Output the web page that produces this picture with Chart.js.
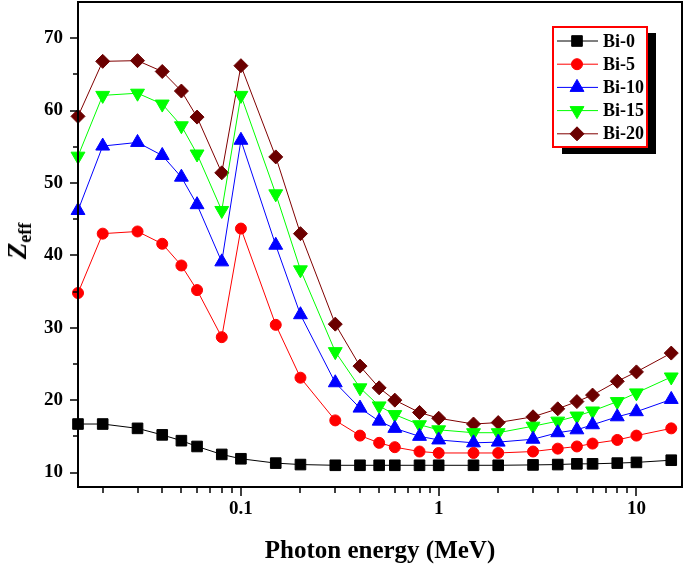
<!DOCTYPE html>
<html>
<head>
<meta charset="utf-8">
<script src="https://cdn.jsdelivr.net/npm/chart.js@4.4.1/dist/chart.umd.min.js"></script>
<style>
  body { margin: 0; background: #fff; }
  #wrap { position: relative; width: 685px; height: 573px; }
  #ytitle {
    position: absolute; left: 19px; top: 241px;
    transform: translate(-50%, -50%) rotate(-90deg);
    font-family: 'Liberation Serif', 'Times New Roman', serif;
    font-weight: bold; font-size: 27px; white-space: nowrap; color: #000;
  }
  #ytitle i { font-style: italic; }
  #ytitle sub { font-size: 18px; font-style: normal; vertical-align: -5px; }
</style>
</head>
<body>
<div id="wrap">
  <canvas id="chart" width="685" height="573"></canvas>
  <div id="ytitle"><i>Z</i><sub>eff</sub></div>
</div>
<script>
// Photon energy (MeV)
const energies = [0.015, 0.02, 0.03, 0.04, 0.05, 0.06, 0.08, 0.1, 0.15, 0.2, 0.3, 0.4, 0.5, 0.6, 0.8, 1, 1.5, 2, 3, 4, 5, 6, 8, 10, 15];

// Zeff per sample
const bi0  = [16.7, 16.7, 16.1, 15.2, 14.4, 13.6, 12.5, 11.9, 11.3, 11.1, 11.0, 11.0, 11.0, 11.0, 11.0, 11.0, 11.0, 11.0, 11.05, 11.1, 11.2, 11.2, 11.3, 11.4, 11.7];
const bi5  = [34.8, 43.0, 43.3, 41.6, 38.6, 35.2, 28.7, 43.7, 30.4, 23.1, 17.2, 15.1, 14.1, 13.5, 12.9, 12.7, 12.7, 12.7, 12.9, 13.3, 13.6, 14.0, 14.5, 15.1, 16.1];
const bi10 = [46.2, 55.1, 55.6, 53.8, 50.8, 47.0, 39.1, 55.9, 41.4, 31.8, 22.4, 18.9, 17.1, 16.1, 15.0, 14.5, 14.1, 14.2, 14.6, 15.5, 15.9, 16.6, 17.7, 18.4, 20.1];
const bi15 = [53.7, 62.1, 62.4, 60.9, 57.9, 54.0, 46.2, 62.1, 48.5, 38.0, 26.7, 21.7, 19.2, 18.0, 16.6, 15.9, 15.5, 15.5, 16.4, 17.1, 17.8, 18.5, 19.8, 21.0, 23.2];
const bi20 = [59.2, 66.8, 66.9, 65.4, 62.7, 59.1, 51.4, 66.2, 53.6, 43.0, 30.5, 24.7, 21.7, 20.0, 18.3, 17.5, 16.7, 16.9, 17.7, 18.8, 19.8, 20.7, 22.6, 23.9, 26.5];

const seriesLabels = ['Bi-0', 'Bi-5', 'Bi-10', 'Bi-15', 'Bi-20'];

// axis ticks
const xMajorTicks = [0.1, 1, 10];
const xMinorTicks = [0.02, 0.03, 0.04, 0.05, 0.06, 0.07, 0.08, 0.09, 0.2, 0.3, 0.4, 0.5, 0.6, 0.7, 0.8, 0.9, 2, 3, 4, 5, 6, 7, 8, 9];
const yMajorTicks = [10, 20, 30, 40, 50, 60, 70];
const yMinorTicks = [15, 25, 35, 45, 55, 65];

const serif = "'Liberation Serif', 'Times New Roman', serif";

function toPoints(values) {
    return energies.map((e, i) => ({ x: e, y: values[i] }));
}

function makeSet(label, values, color, markerColor, style, radius, rotation) {
    return {
        label: label,
        data: toPoints(values),
        borderColor: color,
        backgroundColor: markerColor,
        borderWidth: 1,
        pointStyle: style,
        pointRadius: radius,
        pointRotation: rotation || 0,
        pointBorderColor: markerColor,
        pointBackgroundColor: markerColor,
        pointBorderWidth: 1,
        tension: 0,
        clip: false
    };
}

// frame, ticks and legend drawn by hand
const decorPlugin = {
    id: 'decor',
    afterDraw(chart) {
        const ctx = chart.ctx;
        const a = chart.chartArea;
        const xs = chart.scales.x, ys = chart.scales.y;
        ctx.save();
        ctx.strokeStyle = '#000';
        ctx.lineWidth = 2;
        ctx.strokeRect(a.left, a.top, a.right - a.left, a.bottom - a.top);

        ctx.lineWidth = 1.5;
        ctx.beginPath();
        xMajorTicks.forEach(v => { const p = Math.round(xs.getPixelForValue(v)); ctx.moveTo(p, a.bottom); ctx.lineTo(p, a.bottom + 9); });
        xMinorTicks.forEach(v => { const p = Math.round(xs.getPixelForValue(v)); ctx.moveTo(p, a.bottom); ctx.lineTo(p, a.bottom + 6); });
        yMajorTicks.forEach(v => { const p = Math.round(ys.getPixelForValue(v)); ctx.moveTo(a.left, p); ctx.lineTo(a.left - 8, p); });
        yMinorTicks.forEach(v => { const p = Math.round(ys.getPixelForValue(v)); ctx.moveTo(a.left, p); ctx.lineTo(a.left - 5, p); });
        ctx.stroke();

        // legend box
        const bx = a.right - 129, by = a.top + 25, bw = 94, bh = 120;
        ctx.fillStyle = '#000';
        ctx.fillRect(bx + 9, by + 6, bw, bh + 1);
        ctx.fillStyle = '#fff';
        ctx.fillRect(bx, by, bw, bh);
        ctx.strokeStyle = '#ff0000';
        ctx.lineWidth = 2;
        ctx.strokeRect(bx, by, bw, bh);

        ctx.font = 'bold 18px ' + serif;
        ctx.textBaseline = 'middle';
        chart.data.datasets.forEach((ds, i) => {
            const y = by + 14 + i * 23.2;
            ctx.strokeStyle = ds.borderColor;
            ctx.lineWidth = 1;
            ctx.beginPath();
            ctx.moveTo(bx + 4, y);
            ctx.lineTo(bx + 45, y);
            ctx.stroke();
            ctx.fillStyle = ds.pointBackgroundColor;
            ctx.strokeStyle = ds.pointBorderColor;
            Chart.helpers.drawPoint(ctx, {
                pointStyle: ds.pointStyle, radius: ds.pointRadius,
                rotation: ds.pointRotation, borderWidth: 1
            }, bx + 24, y);
            ctx.fillStyle = '#000';
            ctx.fillText(ds.label, bx + 50, y + 1);
        });
        ctx.restore();
    }
};

const ctx = document.getElementById('chart').getContext('2d');
new Chart(ctx, {
    type: 'line',
    data: {
        datasets: [
            makeSet(seriesLabels[0], bi0, '#000000', '#000000', 'rect', 7.5),
            makeSet(seriesLabels[1], bi5, '#ff0000', '#ff0000', 'circle', 5.5),
            makeSet(seriesLabels[2], bi10, '#0000ff', '#0000ff', 'triangle', 8),
            makeSet(seriesLabels[3], bi15, '#00ff00', '#00ff00', 'triangle', 8, 180),
            makeSet(seriesLabels[4], bi20, '#800000', '#6b0000', 'rectRot', 7)
        ]
    },
    options: {
        responsive: false,
        animation: false,
        layout: { autoPadding: false, padding: { left: 0, top: 2, right: 3, bottom: 0 } },
        plugins: {
            legend: { display: false },
            tooltip: { enabled: false }
        },
        scales: {
            x: {
                type: 'logarithmic',
                min: 0.015,
                max: 17,
                afterBuildTicks: scale => {
                    scale.ticks = xMajorTicks.map(v => ({ value: v }));
                },
                afterFit: scale => {
                    scale.height = 86;
                    scale.paddingLeft = 0;
                    scale.paddingRight = 0;
                },
                grid: { display: true, drawOnChartArea: false, drawTicks: true, tickLength: 9, tickColor: 'transparent' },
                border: { display: false },
                ticks: {
                    color: '#000',
                    padding: 2,
                    maxRotation: 0,
                    autoSkip: false,
                    font: { family: serif, size: 19, weight: 'bold' },
                    callback: v => String(v)
                },
                title: {
                    display: true,
                    text: 'Photon energy (MeV)',
                    color: '#000',
                    font: { family: serif, size: 25, weight: 'bold' },
                    padding: { top: 0, bottom: 6 }
                }
            },
            y: {
                min: 8,
                max: 75,
                afterBuildTicks: scale => {
                    scale.ticks = yMajorTicks.map(v => ({ value: v }));
                },
                afterFit: scale => {
                    scale.width = 78;
                    scale.paddingTop = 0;
                    scale.paddingBottom = 0;
                },
                grid: { display: true, drawOnChartArea: false, drawTicks: true, tickLength: 8, tickColor: 'transparent' },
                border: { display: false },
                ticks: {
                    color: '#000',
                    padding: 7,
                    font: { family: serif, size: 19, weight: 'bold' }
                }
            }
        }
    },
    plugins: [decorPlugin]
});
</script>
</body>
</html>
